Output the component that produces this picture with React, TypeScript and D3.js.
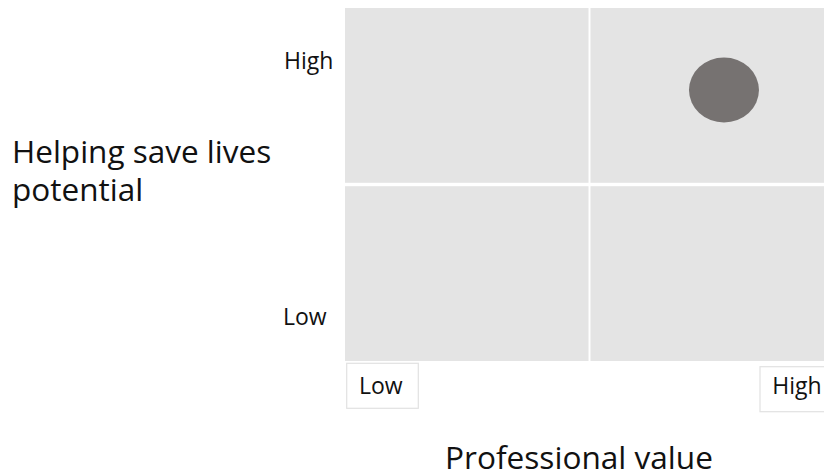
import React from "react";
import * as d3 from "d3";

const xLevels = ["Low", "High"];
const yLevels = ["Low", "High"];
const xTitle = "Professional value";
const yTitleLines = ["Helping save lives", "potential"];
const points = [{ name: "item", x: 1.55, y: 1.535 }];

const W = 824;
const H = 475;
const FONT = "'Open Sans', sans-serif";

export default function App() {
  const x = d3.scaleLinear().domain([0, 2]).range([345, 834]);
  const y = d3.scaleLinear().domain([0, 2]).range([361, 8]);
  const quads = d3.cross([0, 1], [0, 1]);
  const xGap = 1;
  const yGap = 1.7;
  return (
    <svg
      width={W}
      height={H}
      style={{ position: "absolute", left: 0, top: 0, background: "#fff" }}
      fontFamily={FONT}
    >
      {quads.map(([i, j]) => {
        const x0 = x(i) + (i === 1 ? xGap : 0);
        const x1 = x(i + 1) - (i === 0 ? xGap : 0);
        const yTop = y(j + 1) + (j === 0 ? yGap : 0);
        const yBot = y(j) - (j === 1 ? yGap : 0);
        return (
          <rect
            key={`${i}-${j}`}
            x={x0}
            y={yTop}
            width={x1 - x0}
            height={yBot - yTop}
            fill="#e4e4e4"
          />
        );
      })}
      {points.map((p) => (
        <ellipse key={p.name} cx={x(p.x)} cy={y(p.y)} rx={35} ry={32.5} fill="#767271" />
      ))}
      {/* y level labels */}
      <text x={284} y={68.5} fontSize={23} fill="#111">
        {yLevels[1]}
      </text>
      <text x={283} y={324.5} fontSize={23} fill="#111">
        {yLevels[0]}
      </text>
      {/* x level boxes */}
      <rect x={346.7} y={363.3} width={71.6} height={45} fill="#fff" stroke="#e2e2e2" strokeWidth={1.2} />
      <text x={359} y={394} fontSize={23} fill="#111">
        {xLevels[0]}
      </text>
      <rect x={760} y={366.7} width={70} height={45} fill="#fff" stroke="#e2e2e2" strokeWidth={1.2} />
      <text x={772.3} y={394.3} fontSize={23} fill="#111">
        {xLevels[1]}
      </text>
      {/* axis titles */}
      {yTitleLines.map((l, k) => (
        <text key={k} x={12} y={163 + k * 38} fontSize={31.5} fill="#111">
          {l}
        </text>
      ))}
      <text x={445} y={469} fontSize={31.6} fill="#111">
        {xTitle}
      </text>
    </svg>
  );
}
